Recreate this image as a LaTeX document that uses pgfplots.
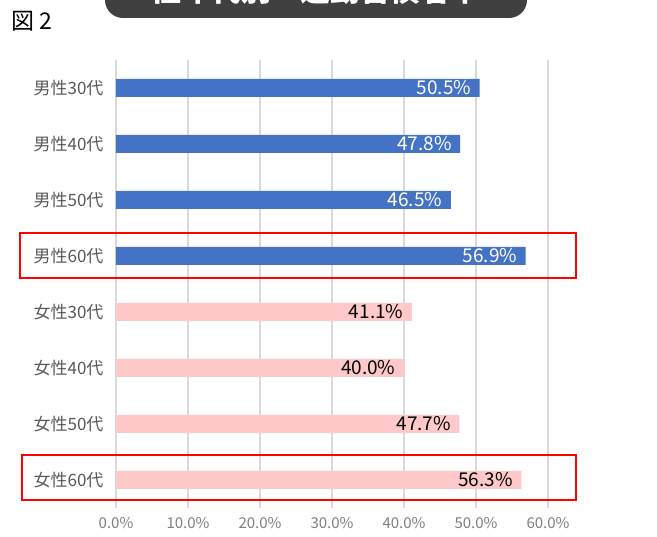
\documentclass[border=0pt]{standalone}
\usepackage{fontspec}
\setmainfont{Noto Sans CJK JP}
\usepackage{pgfplots}
\pgfplotsset{compat=1.18}
\definecolor{barblue}{HTML}{4472C4}
\definecolor{barpink}{HTML}{FFC9C9}
\definecolor{labgray}{HTML}{595959}
\definecolor{tickgray}{HTML}{7F7F7F}
\definecolor{gridgray}{HTML}{D9D9D9}
\definecolor{banner}{HTML}{404040}
\begin{document}
\begin{tikzpicture}
\path[clip, use as bounding box] (0pt,0pt) rectangle (657pt,537pt);
\fill[white] (0pt,0pt) rectangle (657pt,537pt);
% banner
\fill[banner, rounded corners=18pt] (105pt,519pt) rectangle (527pt,580pt);
\node[anchor=base, text=white, font=\fontsize{30}{30}\selectfont\bfseries, inner sep=0pt] at (316pt,535pt) {性年代別　運動習慣者率};
\node[anchor=west, font=\fontsize{23}{23}\selectfont, inner sep=0pt] at (11pt,516pt) {図 2};
\begin{axis}[
  at={(116pt,29pt)}, anchor=south west,
  scale only axis, width=432pt, height=448pt,
  xmin=0, xmax=60, ymin=-0.5, ymax=7.5, y dir=reverse,
  xbar, bar width=18pt,
  axis line style={draw=none},
  major tick length=0pt,
  xmajorgrids, grid style={draw=gridgray, line width=1.3pt},
  xtick={0,10,20,30,40,50,60},
  /pgf/number format/assume math mode=true,
  xticklabel={\pgfmathprintnumber[fixed,fixed zerofill,precision=1]{\tick}\%},
  xticklabel style={text=tickgray, font=\fontsize{15}{15}\selectfont, yshift=-6pt},
  ytick={0,1,2,3,4,5,6,7},
  yticklabels={男性30代,男性40代,男性50代,男性60代,女性30代,女性40代,女性50代,女性60代},
  yticklabel style={text=labgray, font=\fontsize{17}{17}\selectfont, xshift=-9pt},
  point meta=x,
  nodes near coords={\pgfmathprintnumber[fixed,fixed zerofill,precision=1]{\pgfplotspointmeta}\%},
  nodes near coords style={anchor=east, xshift=-5pt, font=\fontsize{19}{19}\selectfont},
]
\addplot[fill=barblue, draw=none, bar shift=0pt, every node near coord/.append style={text=white}]
  coordinates {(50.5,0) (47.8,1) (46.5,2) (56.9,3)};
\addplot[fill=barpink, draw=none, bar shift=0pt, every node near coord/.append style={text=black}]
  coordinates {(41.1,4) (40.0,5) (47.7,6) (56.3,7)};
\end{axis}
% highlight boxes
\draw[red, line width=2.5pt] (20pt,304pt) rectangle (576pt,259pt);
\draw[red, line width=2.5pt] (22pt,82pt) rectangle (576pt,37pt);
\end{tikzpicture}
\end{document}
